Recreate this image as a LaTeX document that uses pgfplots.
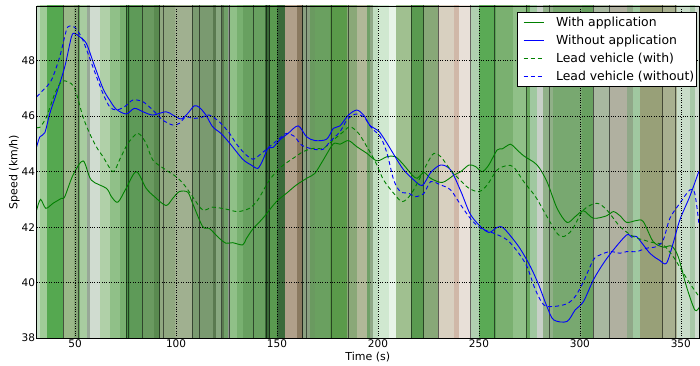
\documentclass[border=0pt]{standalone}
\usepackage{fontspec}
\setmainfont{DejaVu Sans}
\usepackage{pgfplots}
\pgfplotsset{compat=1.18}
\definecolor{mplgreen}{RGB}{0,128,0}
\definecolor{mplblue}{RGB}{0,0,255}
\begin{document}
\begin{tikzpicture}
\begin{axis}[
  name=ax,
  scale only axis, width=662pt, height=332pt,
  xmin=31, xmax=359, ymin=38, ymax=49.97,
  xtick={50,100,...,350}, ytick={38,40,...,48},
  grid=major, grid style={black, dotted, line width=0.6pt},
  axis on top,
  axis line style={black, line width=0.8pt},
  major tick length=0pt,
  tick label style={font=\fontsize{10.5}{12}\selectfont},
  /pgf/number format/assume math mode=true,
  xticklabel style={inner sep=1pt},
  yticklabel style={inner sep=1.5pt},
  xlabel={Time (s)}, ylabel={Speed (km/h)},
  label style={font=\fontsize{11}{13}\selectfont},
  ylabel shift=-3pt,
  colormap={stripes}{
    rgb255=(200,224,200) rgb255=(160,204,152) rgb255=(85,168,80) rgb255=(154,184,136)
    rgb255=(136,168,120) rgb255=(104,168,96) rgb255=(168,204,160) rgb255=(152,168,152)
    rgb255=(208,220,208) rgb255=(176,208,168) rgb255=(144,192,136) rgb255=(120,176,112)
    rgb255=(74,144,72) rgb255=(94,154,88) rgb255=(106,154,96) rgb255=(90,138,80)
    rgb255=(144,168,128) rgb255=(160,176,144) rgb255=(122,154,112) rgb255=(90,122,80)
    rgb255=(136,168,128) rgb255=(90,122,80) rgb255=(112,160,104) rgb255=(144,154,144)
    rgb255=(144,192,136) rgb255=(120,176,112) rgb255=(104,160,96) rgb255=(58,106,56)
    rgb255=(90,154,80) rgb255=(58,106,58) rgb255=(176,160,138) rgb255=(138,122,96)
    rgb255=(74,90,64) rgb255=(138,160,128) rgb255=(106,154,96) rgb255=(106,160,96)
    rgb255=(90,154,74) rgb255=(138,168,120) rgb255=(176,184,152) rgb255=(112,160,104)
    rgb255=(144,168,136) rgb255=(192,220,192) rgb255=(208,232,208) rgb255=(232,244,232)
    rgb255=(160,192,144) rgb255=(90,154,80) rgb255=(136,168,120) rgb255=(216,208,192)
    rgb255=(208,184,168) rgb255=(232,224,216) rgb255=(176,208,176) rgb255=(90,170,85)
    rgb255=(90,160,85) rgb255=(122,176,112) rgb255=(144,192,136) rgb255=(106,168,96)
    rgb255=(160,200,160) rgb255=(200,208,200) rgb255=(144,176,136) rgb255=(120,168,112)
    rgb255=(104,160,96) rgb255=(168,184,160) rgb255=(176,176,160) rgb255=(144,168,136)
    rgb255=(160,200,160) rgb255=(152,160,120) rgb255=(168,176,144) rgb255=(200,220,200)
    rgb255=(168,200,168) rgb255=(208,220,208)
  },
  colormap access=direct,
  legend style={at={(1,1)}, anchor=north east, xshift=-2.3pt, yshift=-5.7pt,
    draw=black, line width=0.8pt, fill=white,
    font=\fontsize{12.4}{14}\selectfont, row sep=2.8pt,
    inner xsep=0pt, inner ysep=3.3pt},
  legend cell align=left,
]
% legend images (explicit)
\addlegendimage{legend image code/.code={\path (-6pt,0pt) (30pt,0pt); \draw[mplgreen, line width=0.9pt] (0pt,0pt) -- (20pt,0pt);}}
\addlegendentry{With application}
\addlegendimage{legend image code/.code={\path (-6pt,0pt) (30pt,0pt); \draw[mplblue, line width=0.9pt] (0pt,0pt) -- (20pt,0pt);}}
\addlegendentry{Without application}
\addlegendimage{legend image code/.code={\path (-6pt,0pt) (30pt,0pt); \draw[mplgreen, line width=0.9pt, dash pattern=on 4pt off 3pt] (0pt,0pt) -- (20pt,0pt);}}
\addlegendentry{Lead vehicle (with)}
\addlegendimage{legend image code/.code={\path (-6pt,0pt) (30pt,0pt); \draw[mplblue, line width=0.9pt, dash pattern=on 4pt off 3pt] (0pt,0pt) -- (20pt,0pt);}}
\addlegendentry{Lead vehicle (without)}
% background stripes
\addplot[surf, shader=flat corner, mesh/cols=71, point meta=explicit, forget plot]
table[x=x, y=y, meta=c] {
x y c
31.0 38 0
32.9 38 1
36.0 38 2
44.0 38 3
49.4 38 4
51.8 38 5
52.7 38 6
55.8 38 7
57.3 38 8
62.6 38 9
67.5 38 10
72.5 38 11
75.5 38 12
77.5 38 13
83.1 38 14
89.0 38 15
92.0 38 16
99.8 38 17
107.8 38 18
118.2 38 19
119.7 38 20
122.7 38 21
123.7 38 22
125.7 38 23
126.6 38 24
130.1 38 25
133.1 38 26
144.0 38 27
146.5 38 28
149.9 38 29
153.9 38 30
159.9 38 31
162.3 38 32
162.8 38 33
166.3 38 34
168.8 38 35
176.2 38 36
184.6 38 37
189.6 38 38
194.5 38 39
196.0 38 40
197.5 38 41
200.0 38 42
205.4 38 43
208.9 38 44
216.4 38 45
222.8 38 46
229.7 38 47
237.6 38 48
240.1 38 49
246.1 38 50
250.0 38 51
257.5 38 52
258.5 38 53
266.9 38 54
273.4 38 55
275.3 38 56
278.7 38 57
281.7 38 58
286.7 38 59
301.1 38 60
306.7 38 61
315.1 38 62
323.5 38 63
326.5 38 64
330.0 38 65
341.3 38 66
348.2 38 67
354.6 38 68
357.1 38 69
359.0 38 0
31.0 50 0
32.9 50 1
36.0 50 2
44.0 50 3
49.4 50 4
51.8 50 5
52.7 50 6
55.8 50 7
57.3 50 8
62.6 50 9
67.5 50 10
72.5 50 11
75.5 50 12
77.5 50 13
83.1 50 14
89.0 50 15
92.0 50 16
99.8 50 17
107.8 50 18
118.2 50 19
119.7 50 20
122.7 50 21
123.7 50 22
125.7 50 23
126.6 50 24
130.1 50 25
133.1 50 26
144.0 50 27
146.5 50 28
149.9 50 29
153.9 50 30
159.9 50 31
162.3 50 32
162.8 50 33
166.3 50 34
168.8 50 35
176.2 50 36
184.6 50 37
189.6 50 38
194.5 50 39
196.0 50 40
197.5 50 41
200.0 50 42
205.4 50 43
208.9 50 44
216.4 50 45
222.8 50 46
229.7 50 47
237.6 50 48
240.1 50 49
246.1 50 50
250.0 50 51
257.5 50 52
258.5 50 53
266.9 50 54
273.4 50 55
275.3 50 56
278.7 50 57
281.7 50 58
286.7 50 59
301.1 50 60
306.7 50 61
315.1 50 62
323.5 50 63
326.5 50 64
330.0 50 65
341.3 50 66
348.2 50 67
354.6 50 68
357.1 50 69
359.0 50 0
};
% dark vertical separators
\addplot[ycomb, no marks, black, opacity=0.55, line width=0.7pt, forget plot] coordinates {
(44.1,50) (51.8,50) (75.4,50) (76.6,50) (83.4,50) (91.7,50) (93.5,50) (108.3,50)
(111.3,50) (122.5,50) (126.2,50) (138.1,50) (144.8,50) (146.0,50) (162.7,50) (164.3,50)
(177.1,50) (185.3,50) (216.7,50) (222.4,50) (229.9,50) (245.6,50) (257.6,50) (273.7,50)
(284.7,50) (306.7,50) (314.5,50) (340.6,50) (347.2,50)};
% With application
\addplot[mplgreen, line width=0.9pt, smooth, no marks, forget plot] coordinates {
(31,42.62) (32.9,43.0) (35.5,42.68) (39.1,42.86) (43.3,43.04) (44.9,43.1) (49,43.88) (54,44.39)
(58,43.7) (65.5,43.4) (68,43.1) (71.2,42.9) (75.3,43.4) (80.3,44.0) (85.2,43.4) (89.3,43.1)
(95,42.78) (98.4,43.04) (101.6,43.28) (105.8,43.26) (108.2,42.86) (113.2,42.02) (116.4,41.96)
(121.4,41.6) (124.7,41.42) (128,41.44) (133,41.36) (134.7,41.57) (138,41.93) (143,42.32)
(149.7,42.92) (154.7,43.22) (159.6,43.52) (165.4,43.79) (168.8,43.94) (172.9,44.42) (177.9,45.0)
(181.2,44.99) (185.4,45.12) (189.5,44.9) (194.5,44.66) (199.5,44.39) (204.5,44.54) (208.6,44.54)
(212.8,44.24) (216.9,43.88) (219.4,43.76) (222.8,43.97) (226.1,43.76) (231.9,43.61) (237.7,43.88)
(241,44.0) (245.1,44.24) (248.4,44.18) (251.6,44.0) (254.9,44.24) (259,44.78) (261.5,44.82)
(265.6,44.99) (268.1,44.84) (272.2,44.57) (278.8,44.24) (283.7,43.64) (288.7,42.68) (293.6,42.17)
(297.7,42.38) (301.8,42.59) (306.7,42.32) (313.3,42.41) (316.6,42.56) (319.9,42.41) (323.2,42.17)
(328.1,42.24) (331.4,42.2) (336.3,41.48) (341.3,41.28) (345.4,41.32) (348.7,40.94) (352.8,39.86)
(356.9,39.02) (359,39.1)};
% Without application
\addplot[mplblue, line width=0.9pt, smooth, no marks, forget plot] coordinates {
(31,44.9) (32.6,45.26) (35,45.4) (37.5,46.1) (40.8,46.82) (44.9,47.78) (48.2,48.86) (49.8,48.98)
(52.3,48.86) (55.6,48.62) (58.9,47.96) (63.8,47.0) (67.1,46.58) (70.4,46.25) (75.3,46.08)
(79.4,46.28) (83.6,46.16) (88.5,46.04) (95,46.16) (98.4,46.04) (102.5,45.9) (105.8,46.1)
(109,46.37) (111.5,46.32) (114.8,46.04) (118.1,45.62) (122.2,45.38) (126.3,45.05) (133,44.45)
(137.2,44.24) (140.5,44.12) (143,44.42) (145.5,44.84) (148,44.87) (151.3,45.14) (155.5,45.38)
(160.5,45.65) (164.6,45.26) (168.8,45.12) (174.6,45.17) (177.9,45.56) (181.2,45.65) (185.4,46.04)
(189.5,46.22) (192.9,46.04) (196.2,45.65) (200.3,45.47) (204.5,45.02) (209.5,44.42) (212.8,44.06)
(216.9,43.76) (221.9,43.5) (226.1,43.97) (231.1,44.24) (236,44.06) (241,43.3) (245.5,42.5)
(250,42.08) (254.9,41.81) (259,41.99) (262.3,41.96) (269.7,41.3) (275.5,40.58) (279.6,39.92)
(283.7,39.14) (287,38.66) (293.6,38.6) (297.7,39.02) (301.8,39.32) (306.7,40.1) (311.7,40.7)
(316.6,41.18) (323.2,41.72) (325.7,41.64) (328.1,41.66) (334.7,41.06) (339.6,40.8) (342.9,40.7)
(346.2,41.42) (349.5,42.26) (354.4,43.1) (358.6,43.94) (359,44.0)};
% Lead vehicle (with)
\addplot[mplgreen, line width=0.9pt, dash pattern=on 4pt off 3pt, smooth, no marks, forget plot] coordinates {
(31,45.6) (32.6,45.6) (35.9,45.98) (40,46.82) (43.3,47.24) (46.5,47.24) (49.8,47.0) (53.9,45.98)
(57.2,45.38) (60.5,44.9) (63.8,44.54) (68.8,44.0) (72,44.42) (76.2,45.02) (81.1,45.38) (85.2,45.02)
(88.5,44.42) (95,44.06) (100,43.82) (104.1,43.52) (108.2,43.1) (113.2,42.62) (118.1,42.72)
(124.7,42.65) (130.6,42.56) (136.4,42.68) (140.5,42.98) (146.3,43.7) (152.2,44.18) (158,44.48)
(163,44.72) (168,44.84) (172.9,44.84) (177.9,45.14) (182.9,45.44) (186.2,45.62) (190.4,45.38)
(194.5,44.9) (198.7,44.36) (202.8,43.7) (207.8,43.22) (212,42.92) (216.1,43.16) (220.3,43.7)
(224.4,44.3) (227.7,44.66) (231.1,44.54) (236,44.06) (241,43.67) (245.1,43.4) (250,43.28)
(254.1,43.52) (259,44.06) (264,44.22) (267.3,44.16) (272.2,43.64) (278,43.1) (283.7,42.38)
(288.7,41.78) (291.9,41.66) (296.1,41.9) (301.8,42.62) (308.4,42.86) (313.3,42.62) (319.9,42.02)
(326.5,41.66) (331.4,41.54) (336.3,41.44) (341.3,41.36) (346.2,40.94) (350.3,40.46) (354.4,39.98)
(359,39.5)};
% Lead vehicle (without)
\addplot[mplblue, line width=0.9pt, dash pattern=on 4pt off 3pt, smooth, no marks, forget plot] coordinates {
(31,46.7) (34.2,46.94) (38.3,47.3) (42.4,48.14) (45.7,49.1) (47.4,49.25) (49.8,49.2) (53.1,48.86)
(56.4,48.26) (59.7,47.6) (63.8,46.82) (67.1,46.34) (70.4,46.22) (74.5,46.34) (78.6,46.58)
(83.6,46.52) (88.5,46.22) (93.4,45.86) (98.4,45.68) (101.6,45.74) (104.9,45.98) (108.2,45.92)
(112.3,45.95) (116.4,46.04) (121.4,45.8) (126.3,45.4) (129.7,45.02) (133.9,44.66) (138,44.45)
(141.4,44.6) (146.3,44.9) (151.3,45.2) (154.7,45.38) (158.8,45.26) (162.1,44.96) (168,44.81)
(172.9,44.81) (176.2,45.08) (181.2,45.44) (184.6,45.86) (188.7,46.07) (192.9,45.98) (197,45.56)
(201.2,45.26) (204.5,44.66) (207.8,43.7) (211.1,43.28) (215.3,43.22) (218.6,43.1) (222.8,43.22)
(226.1,43.64) (231.1,43.52) (236,43.34) (241,42.8) (245.9,42.3) (250.8,41.96) (257.4,41.78)
(264,41.54) (269.7,41.06) (273.8,40.58) (278,39.74) (282.1,39.2) (287,39.14) (293.6,39.24)
(297.7,39.5) (301.8,40.04) (306.7,40.82) (310,41.0) (315,41.12) (319.9,41.06) (323.2,41.12)
(328.1,41.12) (333,41.24) (337.9,41.3) (341.3,41.54) (344.6,42.32) (349.5,42.86) (354.4,43.34)
(356.9,43.22) (359,42.1)};
\end{axis}
\pgfresetboundingbox
\path[use as bounding box] ([xshift=-36.7pt, yshift=-27.7pt]ax.south west) rectangle ([xshift=1pt, yshift=6pt]ax.north east);
\end{tikzpicture}
\end{document}
